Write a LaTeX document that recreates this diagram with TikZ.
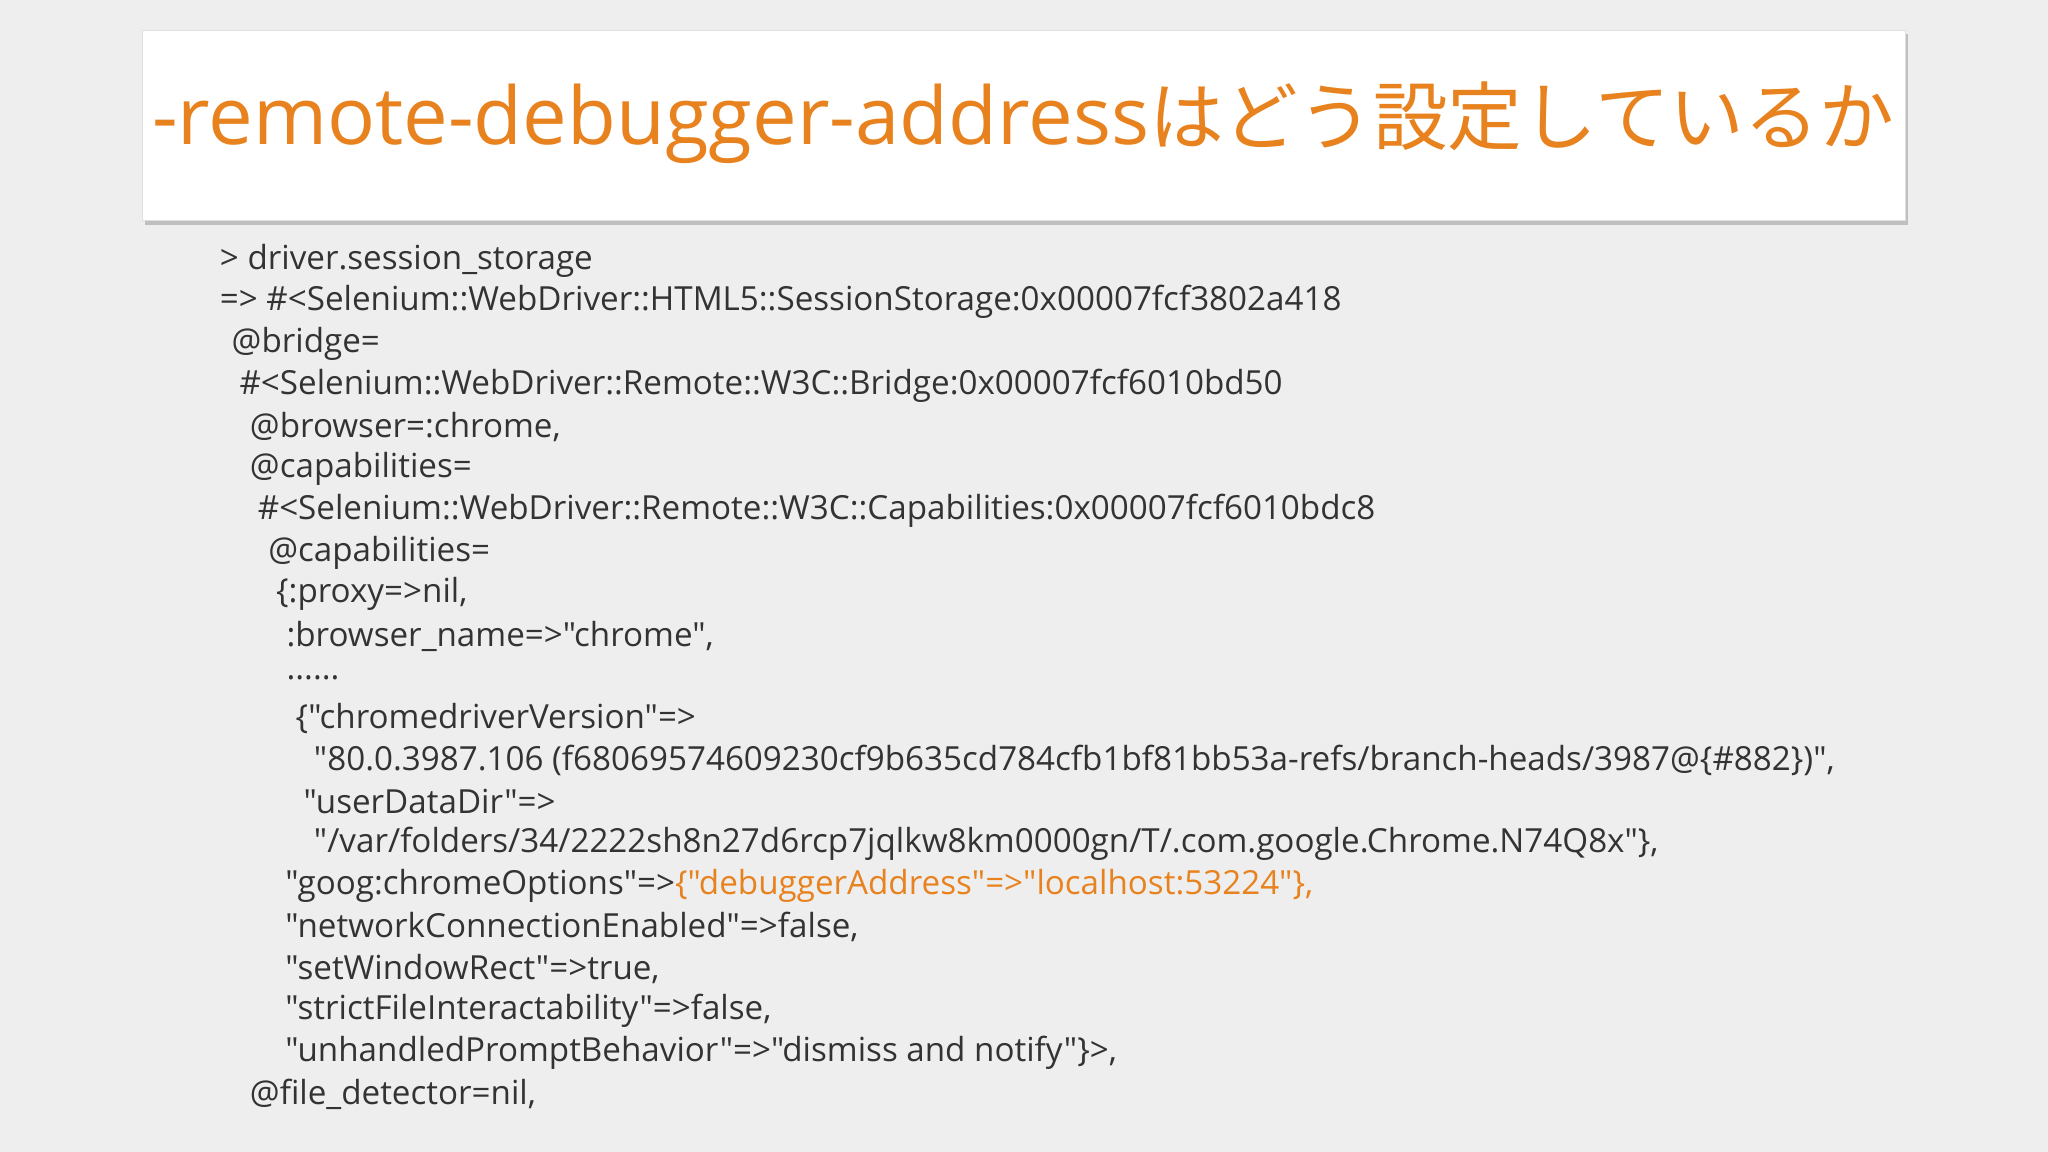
\documentclass[tikz,border=0pt]{standalone}
\usepackage{fontspec}
\setmainfont{Open Sans}[Ligatures=TeXOff]
\newfontfamily\cjk{Noto Sans CJK JP}
\definecolor{bg}{HTML}{EEEEEE}
\definecolor{org}{HTML}{E8821E}
\definecolor{txt}{HTML}{333333}
\begin{document}
\begin{tikzpicture}[x=0.5pt,y=-0.5pt,
  ln/.style={anchor=west,inner sep=0pt,text=txt,font=\fontsize{12.7}{15}\selectfont}]
\fill[bg] (0,0) rectangle (1568,882);
\useasboundingbox (0,0) rectangle (1568,882);
\fill[black!25] (111,26) rectangle (1461,172);
\node[draw=black!12,fill=white,minimum width=675pt,minimum height=73pt,inner sep=0pt] (title) at (784,96) {};
\node[anchor=west,inner sep=0pt,text=org,font=\fontsize{30.5}{32}\selectfont] (tt) at (116,94) {-remote-debugger-address{\cjk\fontsize{28.6}{30}\selectfont はどう設定しているか}};
\node[ln] (l1) at (168,200) {> driver.session\_storage};
\node[ln] (l2) at (168,231) {=> \#<Selenium::WebDriver::HTML5::SessionStorage:0x00007fcf3802a418};
\node[ln] (l3) at (177,263) {@bridge=};
\node[ln] (l4) at (183,295) {\#<Selenium::WebDriver::Remote::W3C::Bridge:0x00007fcf6010bd50};
\node[ln] (l5) at (191,327) {@browser=:chrome,};
\node[ln] (l6) at (191,359) {@capabilities=};
\node[ln] (l7) at (197,391) {\#<Selenium::WebDriver::Remote::W3C::Capabilities:0x00007fcf6010bdc8};
\node[ln] (l8) at (205,423) {@capabilities=};
\node[ln] (l9) at (211,455) {\{:proxy=>nil,};
\node[ln] (l10) at (219,487) {:browser\_name=>"chrome",};
\node[ln] (l11) at (219,519) {......};
\node[ln] (l12) at (226,550) {\{"chromedriverVersion"=>};
\node[ln] (l13) at (240,582) {"80.0.3987.106 (f68069574609230cf9b635cd784cfb1bf81bb53a-refs/branch-heads/3987@\{\#882\})",};
\node[ln] (l14) at (232,614) {"userDataDir"=>};
\node[ln] (l15) at (240,646) {"/var/folders/34/2222sh8n27d6rcp7jqlkw8km0000gn/T/.com.google.Chrome.N74Q8x"\},};
\node[ln] (l16) at (218,678) {"goog:chromeOptions"=>\textcolor{org}{\{"debuggerAddress"=>"localhost:53224"\},}};
\node[ln] (l17) at (218,710) {"networkConnectionEnabled"=>false,};
\node[ln] (l18) at (218,742) {"setWindowRect"=>true,};
\node[ln] (l19) at (218,774) {"strictFileInteractability"=>false,};
\node[ln] (l20) at (218,806) {"unhandledPromptBehavior"=>"dismiss and notify"\}>,};
\node[ln] (l21) at (191,838) {@file\_detector=nil,};
\end{tikzpicture}
\end{document}
